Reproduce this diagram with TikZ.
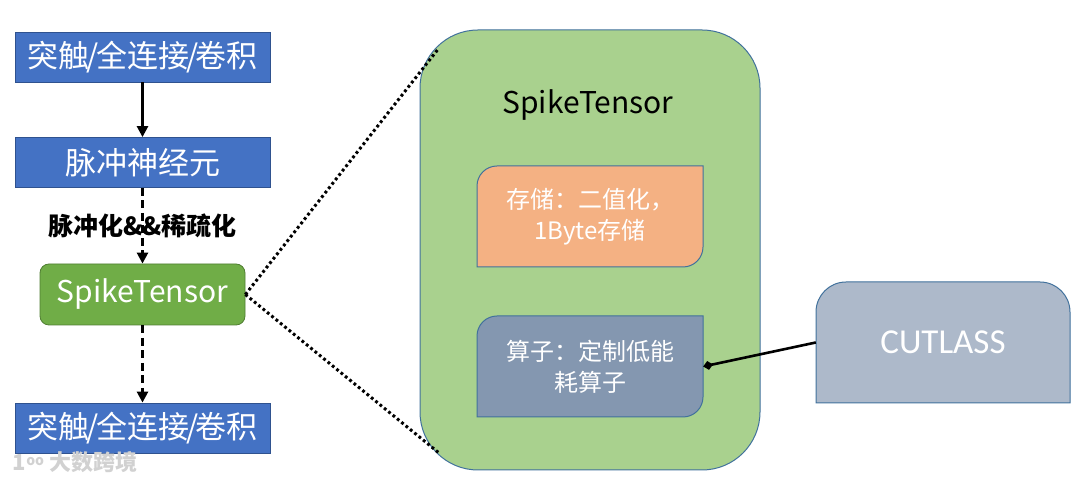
\documentclass[tikz,border=0pt]{standalone}
\usepackage{fontspec}
\setmainfont{Noto Sans CJK SC}
\newfontfamily\latinlight{Carlito}
\usetikzlibrary{arrows.meta}
\definecolor{boxblue}{HTML}{4472C4}
\definecolor{boxblueline}{HTML}{2F528F}
\definecolor{stgreen}{HTML}{70AD47}
\definecolor{stgreenline}{HTML}{507E32}
\definecolor{biggreen}{HTML}{A9D18E}
\definecolor{bigline}{HTML}{41719C}
\definecolor{orangebox}{HTML}{F4B183}
\definecolor{grayblue}{HTML}{8497B0}
\definecolor{cutlassfill}{HTML}{ADB9CA}
\newcommand{\slsh}{\kern-3pt/\kern-3pt}
\tikzset{
  bluebox/.style={draw=boxblueline, line width=0.8pt, fill=boxblue, text=white,
    minimum width=255pt, minimum height=50pt, inner sep=0pt,
    font=\fontsize{31}{34}\selectfont},
  greenbox/.style={draw=stgreenline, line width=0.8pt, fill=stgreen, text=white,
    rounded corners=9pt, minimum width=205pt, minimum height=61pt, inner sep=0pt,
    font=\fontsize{30}{33}\selectfont},
  flowarrow/.style={line width=2.6pt, -{Triangle[length=11pt,width=11pt]}},
  dashedarrow/.style={flowarrow, dash pattern=on 8pt off 4.5pt},
  zoomline/.style={line width=3pt, dash pattern=on 2.8pt off 2.8pt},
  innertext/.style={text=white, align=center, font=\fontsize{24}{31}\selectfont,
    minimum width=226pt, minimum height=101pt, inner sep=0pt},
  shapeline/.style={draw=bigline, line width=1pt},
}
\begin{document}
\begin{tikzpicture}[x=1pt,y=1pt]
\useasboundingbox (0,0) rectangle (1080,481);
% left column
\node[bluebox] (syn1) at (142.5,424) {突触\slsh 全连接\slsh 卷积};
\node[bluebox] (neuron) at (142.5,318.5) {脉冲神经元};
\node[greenbox] (st) at (142.5,186.5) {SpikeTensor};
\node[bluebox] (syn2) at (142.5,53) {突触\slsh 全连接\slsh 卷积};
\draw[flowarrow] (syn1.south) -- (neuron.north);
\draw[dashedarrow] (neuron.south) -- (st.north);
\draw[dashedarrow] (st.south) -- (syn2.north);
\node[font=\fontsize{25}{28}\selectfont\bfseries] (lbl) at (142.5,255) {脉冲化\&\&稀疏化};
% big box
\filldraw[shapeline, fill=biggreen, rounded corners=58pt] (420,11) rectangle (760,451);
\coordinate (bigtop) at (439,433);
\coordinate (bigbot) at (439,28);
\draw[zoomline] (st.east) -- (bigtop);
\draw[zoomline] (st.east) -- (bigbot);
\node[font=\fontsize{30}{33}\selectfont] (title) at (588,376) {SpikeTensor};
% storage box
\filldraw[shapeline, fill=orangebox] (477,214) -- (477,295) arc[start angle=180,end angle=90,radius=20]
  -- (703,315) -- (703,234) arc[start angle=0,end angle=-90,radius=20] -- cycle;
\node[innertext] (store) at (590,264.5) {存储：二值化，\\1Byte存储};
% operator box
\filldraw[shapeline, fill=grayblue] (477,64) -- (477,145) arc[start angle=180,end angle=90,radius=20]
  -- (703,165) -- (703,84) arc[start angle=0,end angle=-90,radius=20] -- cycle;
\node[innertext] (op) at (590,114.5) {算子：定制低能\\耗算子};
% CUTLASS
\filldraw[shapeline, fill=cutlassfill] (816,78) -- (816,169) arc[start angle=180,end angle=90,radius=30]
  -- (1040,199) arc[start angle=90,end angle=0,radius=30] -- (1070,78) -- cycle;
\node[text=white, font=\latinlight\fontsize{35}{38}\selectfont, minimum width=254pt, minimum height=121pt, inner sep=0pt] (cut) at (943,138.5) {CUTLASS};
\draw[line width=2.6pt, {Diamond[length=10pt,width=9pt]}-] (op.east) -- (cut.west);
% watermark
\node[text=black!18, font=\fontsize{22}{24}\selectfont\bfseries] (wm) at (75,19) {1\raisebox{5pt}{\fontsize{14}{14}\selectfont oo}\ 大数跨境};
\end{tikzpicture}
\end{document}
